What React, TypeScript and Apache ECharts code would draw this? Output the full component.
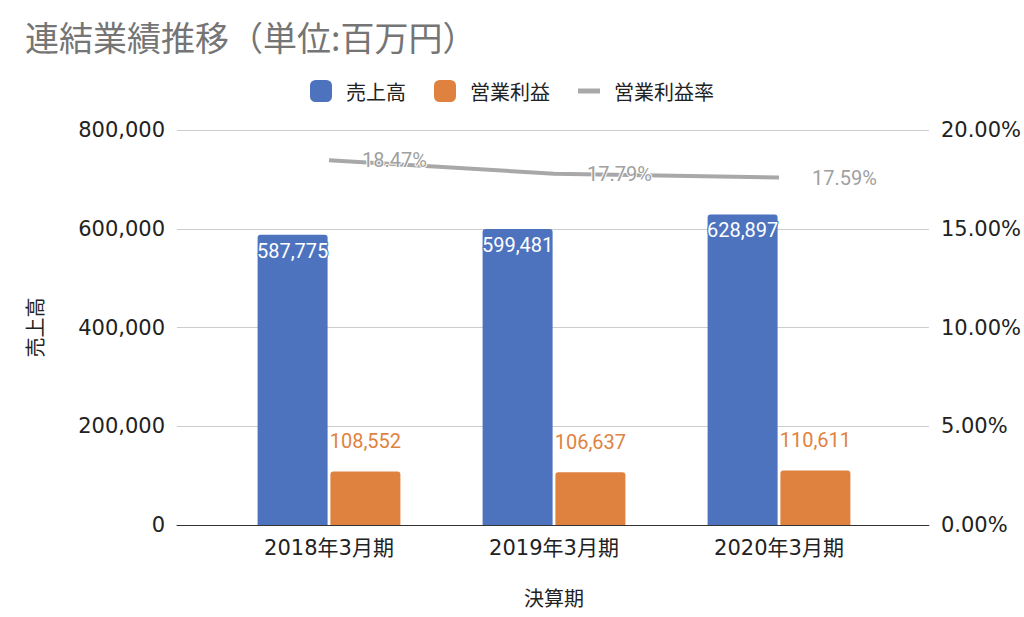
import React, { useEffect, useRef } from "react";
import * as echarts from "echarts";

const categories = ["2018年3月期", "2019年3月期", "2020年3月期"];
const sales = [587775, 599481, 628897];
const operatingProfit = [108552, 106637, 110611];
const operatingMargin = [0.1847, 0.1779, 0.1759];

const BLUE = "#4d73bf";
const ORANGE = "#e0823f";
const GRAY = "#a8a8a8";
const LATIN = "'DejaVu Sans', 'Noto Sans CJK JP', sans-serif";
const CJK = "'Noto Sans CJK JP', sans-serif";

export default function App() {
  const ref = useRef<HTMLDivElement>(null);
  useEffect(() => {
    if (!ref.current) return;
    const chart = echarts.init(ref.current, null, { renderer: "svg" });
    chart.setOption({
      animation: false,
      backgroundColor: "#ffffff",
      title: {
        text: "連結業績推移（単位:百万円）",
        left: 20,
        top: 14,
        textStyle: { fontFamily: CJK, fontSize: 34, fontWeight: "normal", color: "#757575" },
      },
      legend: {
        top: 75,
        left: "center",
        itemGap: 28,
        itemWidth: 22,
        itemHeight: 22,
        textStyle: { fontFamily: CJK, fontSize: 20, color: "#222", padding: [0, 0, 0, 9] },
        data: [
          { name: "売上高", icon: "roundRect" },
          { name: "営業利益", icon: "roundRect" },
          { name: "営業利益率", icon: "path://M0,0H22V5H0Z" },
        ],
      },
      grid: [
        { left: 177, right: 94, top: 130, bottom: 92 },
        { left: 216.5, right: 132.5, top: 130, bottom: 92 },
      ],
      xAxis: [
        {
          gridIndex: 0,
          type: "value",
          min: 0,
          max: 1,
          axisLine: { show: true, lineStyle: { color: "#333", width: 1 } },
          axisTick: { show: false },
          axisLabel: { show: false },
          splitLine: { show: false },
        },
        {
          gridIndex: 1,
          type: "category",
          data: categories,
          axisLine: { show: false },
          axisTick: { show: false },
          axisLabel: { fontFamily: LATIN, fontSize: 21, color: "#222", margin: 12 },
          name: "決算期",
          nameLocation: "middle",
          nameGap: 62,
          nameTextStyle: { fontFamily: CJK, fontSize: 20, color: "#222" },
        },
      ],
      yAxis: [
        {
          gridIndex: 0,
          type: "value",
          min: 0,
          max: 800000,
          interval: 200000,
          axisLine: { show: false },
          axisTick: { show: false },
          axisLabel: {
            fontFamily: LATIN,
            fontSize: 21,
            color: "#222",
            margin: 12,
            formatter: (v: number) => v.toLocaleString("en-US"),
          },
          splitLine: { show: true, lineStyle: { color: "#cccccc", width: 1 } },
          name: "売上高",
          nameLocation: "middle",
          nameRotate: 90,
          nameGap: 133,
          nameTextStyle: { fontFamily: CJK, fontSize: 20, color: "#222" },
        },
        {
          gridIndex: 0,
          type: "value",
          position: "right",
          min: 0,
          max: 0.2,
          interval: 0.05,
          axisLine: { show: false },
          axisTick: { show: false },
          axisLabel: {
            fontFamily: LATIN,
            fontSize: 21,
            color: "#222",
            margin: 12,
            formatter: (v: number) => (v * 100).toFixed(2) + "%",
          },
          splitLine: { show: false },
        },
        {
          gridIndex: 1,
          type: "value",
          min: 0,
          max: 800000,
          show: false,
          splitLine: { show: false },
        },
        {
          gridIndex: 1,
          type: "value",
          position: "right",
          min: 0,
          max: 0.2,
          show: false,
          splitLine: { show: false },
        },
      ],
      series: [
        {
          name: "売上高",
          type: "bar",
          xAxisIndex: 1,
          yAxisIndex: 2,
          data: sales,
          barWidth: 70,
          barGap: "4%",
          itemStyle: { color: BLUE, borderRadius: [3, 3, 0, 0] },
          label: {
            show: true,
            position: "insideTop",
            distance: 6,
            fontFamily: "Roboto",
            fontSize: 20,
            color: "#ffffff",
            textBorderColor: BLUE,
            textBorderWidth: 2,
            formatter: (p: any) => Number(p.value).toLocaleString("en-US"),
          },
        },
        {
          name: "営業利益",
          type: "bar",
          xAxisIndex: 1,
          yAxisIndex: 2,
          data: operatingProfit,
          barWidth: 70,
          barGap: "4%",
          itemStyle: { color: ORANGE, borderRadius: [3, 3, 0, 0] },
          label: {
            show: true,
            position: "top",
            distance: 20,
            fontFamily: "Roboto",
            fontSize: 20,
            color: ORANGE,
            formatter: (p: any) => Number(p.value).toLocaleString("en-US"),
          },
        },
        {
          name: "営業利益率",
          type: "line",
          xAxisIndex: 1,
          yAxisIndex: 3,
          data: operatingMargin,
          symbol: "circle",
          symbolSize: 0,
          lineStyle: { color: GRAY, width: 4 },
          itemStyle: { color: GRAY },
          z: 3,
          label: {
            show: true,
            position: "right",
            distance: 33,
            fontFamily: "Roboto",
            fontSize: 20,
            color: "#a0a0a0",
            textBorderColor: "#ffffff",
            textBorderWidth: 2,
            formatter: (p: any) => (Number(p.value) * 100).toFixed(2) + "%",
          },
        },
      ],
    });
    return () => chart.dispose();
  }, []);
  return (
    <div
      ref={ref}
      style={{ position: "fixed", left: 0, top: 0, width: 1024, height: 617, background: "#fff" }}
    />
  );
}
